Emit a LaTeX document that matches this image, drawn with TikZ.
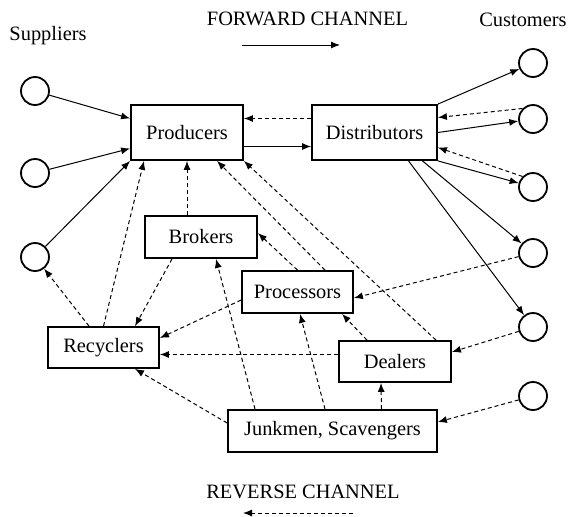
\documentclass[tikz,border=0pt]{standalone}
\usepackage{fontspec}
\setmainfont{Liberation Serif}
\usetikzlibrary{arrows.meta}

\begin{document}
\begin{tikzpicture}[x=0.5pt,y=0.5pt,>={Latex[length=4.5pt,width=3.5pt]},
		font=\fontsize{10.2}{12}\selectfont,
		box/.style={rectangle,draw,line width=0.9pt,inner sep=0pt},
		party/.style={circle,draw,line width=0.9pt,minimum size=14pt,inner sep=0pt},
		flow/.style={->,line width=0.5pt},
		back/.style={->,line width=0.5pt,dash pattern=on 2pt off 1.5pt}]
		\useasboundingbox (0,0) rectangle (571,516);

		% channel members
		\node [box,minimum width=56pt,minimum height=27.5pt] (prod) at (187, 383.5) {Producers};
		\node [box,minimum width=62.5pt,minimum height=27.5pt] (dist) at (374.5, 383.5) {Distributors};
		\node [box,minimum width=56pt,minimum height=21pt] (brok) at (201, 279) {Brokers};
		\node [box,minimum width=55.5pt,minimum height=21pt] (proc) at (297.5, 224) {Processors};
		\node [box,minimum width=55.5pt,minimum height=20.5pt] (recy) at (103.5, 168.5) {Recyclers};
		\node [box,minimum width=56pt,minimum height=20.5pt] (deal) at (395, 154.5) {Dealers};
		\node [box,minimum width=104.5pt,minimum height=21pt] (junk) at (332.5, 85) {Junkmen, Scavengers};

		% suppliers and customers
		\node [party] (s1) at (35, 425) {};
		\node [party] (s2) at (35, 343) {};
		\node [party] (s3) at (35, 259) {};
		\node [party] (c1) at (533, 453) {};
		\node [party] (c2) at (533, 397) {};
		\node [party] (c3) at (533, 329) {};
		\node [party] (c4) at (533, 263) {};
		\node [party] (c5) at (533, 189) {};
		\node [party] (c6) at (533, 120) {};

		\node (supl) at (48, 480) {Suppliers};
		\node (cust) at (523, 496) {Customers};

		% forward channel
		\draw [flow] (s1) to ([yshift=7pt]prod.west);
		\draw [flow] (s2) to ([yshift=-8pt]prod.west);
		\draw [flow] (s3) to (prod.south west);
		\draw [flow] ([yshift=-7pt]prod.east) to ([yshift=-7pt]dist.west);
		\draw [flow] (dist.north east) to (c1);
		\draw [flow] (dist.east) to (c2);
		\draw [flow] (dist.south east) to (c3);
		\draw [flow] ([xshift=24pt]dist.south) to (c4);
		\draw [flow] ([xshift=17pt]dist.south) to (c5);

		% reverse channel
		\draw [back] ([yshift=7pt]dist.west) to ([yshift=7pt]prod.east);
		\draw [back] (c2.135) to ([yshift=7.5pt]dist.east);
		\draw [back] (c3.135) to ([yshift=-7.5pt]dist.east);
		\draw [back] (c4) to ([yshift=-3pt]proc.east);
		\draw [back] (c5) to ([yshift=4.75pt]deal.east);
		\draw [back] (c6) to ([yshift=4.5pt]junk.east);
		\draw [back] ([xshift=-7.25pt]recy.north) to (s3);
		\draw [back] (recy.north) to ([xshift=-21.5pt]prod.south);
		\draw [back] ([xshift=-7pt]brok.north) to (prod.south);
		\draw [back] ([xshift=-14.5pt]brok.south) to ([xshift=15.75pt]recy.north);
		\draw [back] ([xshift=13.75pt]proc.north) to ([xshift=15pt]prod.south);
		\draw [back] (proc.north) to ([yshift=2pt]brok.east);
		\draw [back] ([yshift=-4pt]proc.west) to ([yshift=4.75pt]recy.east);
		\draw [back] ([xshift=20.5pt]deal.north) to (prod.south east);
		\draw [back] ([xshift=-14pt]deal.north) to ([xshift=22.25pt]proc.south);
		\draw [back] ([yshift=3.5pt]deal.west) to ([yshift=-3.5pt]recy.east);
		\draw [back] ([yshift=4pt]junk.west) to ([xshift=15.75pt]recy.south);
		\draw [back] ([xshift=-38.75pt]junk.north) to ([xshift=7.5pt]brok.south);
		\draw [back] ([xshift=-3.75pt]junk.north) to ([xshift=1.25pt]proc.south);
		\draw [back] ([xshift=24.5pt]junk.north) to ([xshift=-7pt]deal.south);

		% legend
		\node (fwd) at (307.5, 497) {FORWARD CHANNEL};
		\coordinate (fwdA) at (242, 471);
		\coordinate (fwdB) at (340, 471);
		\draw [flow] (fwdA) to (fwdB);
		\node (rev) at (303, 24.5) {REVERSE CHANNEL};
		\coordinate (revA) at (353, 3);
		\coordinate (revB) at (243, 3);
		\draw [back] (revA) to (revB);
\end{tikzpicture}
\end{document}
